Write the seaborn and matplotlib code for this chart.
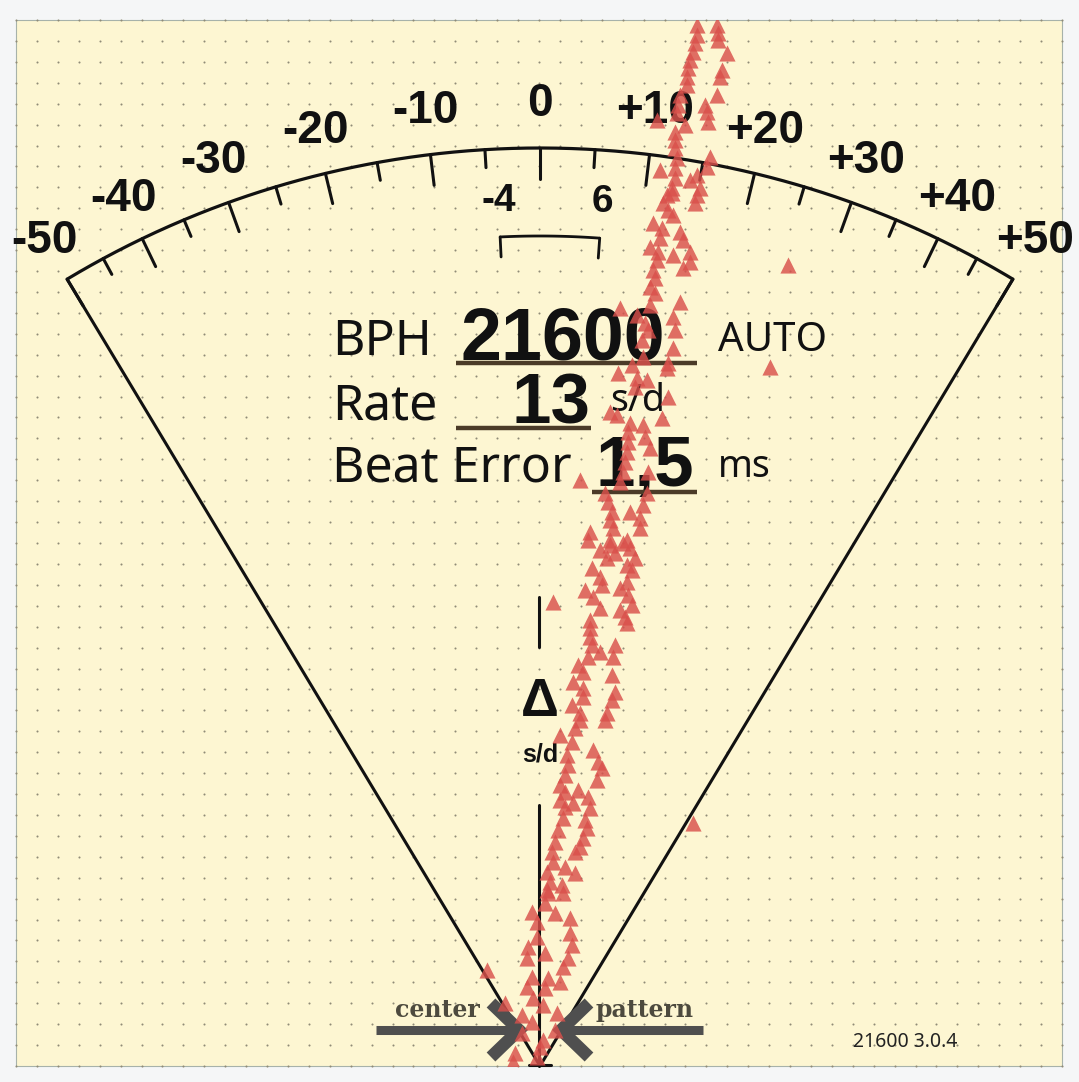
import numpy as np
import pandas as pd
import matplotlib
matplotlib.use("Agg")
import matplotlib.pyplot as plt
from matplotlib.patches import Rectangle
import seaborn as sns

# --- values ---
SCALE_TICKS = [-50, -45, -40, -35, -30, -25, -20, -15, -10, -5, 0,
               5, 10, 15, 20, 25, 30, 35, 40, 45, 50]
SCALE_LABELS = {-50: "-50", -40: "-40", -30: "-30", -20: "-20", -10: "-10",
                0: "0", 10: "+10", 20: "+20", 30: "+30", 40: "+40", 50: "+50"}
BAND = [-4, 6]
BPH = "21600"
RATE = "13"
BEAT_ERROR = "1,5"
VERSION = "21600 3.0.4"

# beat trace, screen pixels (x, y); tic line and toc line
tic_x = [697, 697, 695, 693, 690, 688, 687, 687, 680, 678, 677, 685, 675, 675, 675, 677, 675, 675, 672,
         672, 667, 663, 668, 673, 653, 662, 660, 650, 658, 657, 653, 655, 650, 655, 650, 637, 645, 648, 642, 643, 632,
         618, 637, 635, 610, 617, 630, 628, 628, 627, 625, 623, 620, 605, 608, 612, 610, 613, 590, 610,
         588, 600, 607, 592, 600, 602, 585, 593, 600, 590, 590, 590, 592, 600, 588, 578, 583, 573, 583, 583, 572, 580,
         580, 575, 560, 572, 567, 568, 565, 560, 565, 560, 565, 563, 558, 555, 552, 553, 547, 550, 562, 547,
         548, 545, 532, 537, 537, 528, 527, 532, 527, 533, 543, 505, 522, 532, 522, 540, 515, 513]
tic_y = [25, 35, 43, 52, 60, 68, 77, 85, 95, 105, 113, 125, 132, 140, 148, 158, 168, 178, 188,
         193, 195, 203, 210, 215, 223, 228, 238, 247, 252, 260, 270, 278, 287, 293, 305, 315, 323, 330, 340, 357, 365,
         373, 378, 387, 412, 415, 423, 432, 442, 452, 462, 472, 482, 493, 502, 512, 520, 528, 532, 540,
         540, 550, 558, 568, 577, 585, 590, 597, 608, 620, 628, 637, 645, 652, 657, 665, 672, 682, 688, 697, 705, 713,
         720, 728, 735, 742, 755, 765, 775, 785, 792, 800, 807, 818, 830, 842, 852, 862, 872, 882, 885, 890,
         893, 903, 912, 922, 937, 947, 958, 977, 987, 998, 1005, 1003, 1015, 1022, 1033, 1047, 1053, 1062]

toc_x = [717, 718, 718, 727, 722, 720, 717, 705, 707, 708, 710, 707, 697, 690, 700,
         697, 695, 680, 683, 673, 690, 690, 683, 680, 673, 675, 673, 668,
         667, 647, 668, 662, 643, 645, 650, 648, 647, 643, 630, 640, 640, 627,
         610, 623, 630, 615, 635, 627, 632, 627, 620, 628, 632, 620, 625, 627, 615, 613, 612, 615, 612, 607,
         605, 593, 598, 602, 597, 578, 588, 573, 590, 585, 587, 583, 580, 575, 565, 575,
         563, 555, 570, 570, 572, 545, 568, 563, 548, 560, 545, 557, 555, 543, 537]
toc_y = [25, 33, 40, 53, 70, 77, 95, 105, 112, 122, 157, 167, 175, 180, 188,
         195, 203, 232, 240, 255, 252, 262, 268, 302, 317, 330, 348, 363,
         368, 380, 397, 418, 425, 437, 448, 472, 493, 505, 512, 518, 528, 540,
         545, 543, 548, 553, 558, 565, 570, 582, 588, 595, 605, 610, 617, 623, 645, 657, 675, 692, 700, 713,
         720, 750, 762, 768, 780, 790, 797, 803, 808, 820, 828, 838, 847, 852, 867, 873,
         893, 913, 918, 933, 945, 953, 958, 967, 978, 982, 988, 1013, 1030, 1040, 1057]

stray_x = [657, 660, 788, 770, 620, 580, 553, 693, 487]
stray_y = [120, 170, 265, 367, 308, 480, 602, 823, 970]

# --- screen geometry ---
PANEL = (16, 20, 1046)
APEX = (540, 1066)
R_ARC = 918
INK = "#111111"
FONT = "Noto Sans"
BOLD = "Liberation Sans"


def angle(v):
    return np.arctan(v * 0.01202)


def polar(v, r):
    a = angle(v)
    return APEX[0] + r * np.sin(a), APEX[1] - r * np.cos(a)


sns.set_style("white")
plt.rcParams["font.family"] = [FONT, "DejaVu Sans"]

fig = plt.figure(figsize=(10.79, 10.82), dpi=100)
fig.patch.set_facecolor("#f5f6f7")
ax = fig.add_axes([0, 0, 1, 1])
ax.set_facecolor("#f5f6f7")

px, py, side = PANEL
panel = Rectangle((px, py), side, side, facecolor="#fdf6d2",
                  edgecolor="#a7b2aa", lw=0.8, zorder=0)
ax.add_patch(panel)

# dotted background grid
step = side / 50
gx, gy = np.meshgrid(px + step * np.arange(51), py + step * np.arange(51))
ax.scatter(gx.ravel(), gy.ravel(), s=2.2, color="#8f8b77", lw=0, zorder=1)

# fan and arc
lo, hi = SCALE_TICKS[0], SCALE_TICKS[-1]
for v in (lo, hi):
    ex, ey = polar(v, R_ARC)
    ax.plot([APEX[0], ex], [APEX[1], ey], color=INK, lw=2.2, zorder=2,
            solid_capstyle="butt")
arc_v = np.linspace(lo, hi, 300)
ax.plot(*polar(arc_v, R_ARC), color=INK, lw=2.3, zorder=2)

for v in SCALE_TICKS:
    ln = 31 if v % 10 == 0 else 18
    x0, y0 = polar(v, R_ARC)
    x1, y1 = polar(v, R_ARC - ln)
    ax.plot([x0, x1], [y0, y1], color=INK, lw=2.2, zorder=2)
    if v in SCALE_LABELS:
        lx, ly = polar(v, 962)
        ax.text(lx, ly, SCALE_LABELS[v], ha="center", va="center", family=BOLD,
                fontsize=33, fontweight="bold", color=INK, zorder=2)

# tolerance band
band_v = np.linspace(BAND[0], BAND[1], 40)
bx, by = polar(band_v, 830)
ax.plot(bx, by, color=INK, lw=2.0, zorder=2)
for v in BAND:
    x0, y0 = polar(v, 830)
    x1, y1 = polar(v, 810)
    ax.plot([x0, x1], [y0, y1], color=INK, lw=2.0, zorder=2)
    lx, ly = polar(v, 866)
    ax.text(lx, ly, f"{v}", ha="center", va="center", fontsize=28, family=BOLD,
            fontweight="bold", color=INK, zorder=2)

# center line with delta label
ax.plot([539, 539], [597, 647], color=INK, lw=2.2, zorder=2)
ax.plot([539, 539], [805, APEX[1]], color=INK, lw=2.2, zorder=2)
ax.plot([529, 551], [1065, 1065], color=INK, lw=2.2, zorder=2)
ax.text(540, 702, "Δ", ha="center", va="center", fontsize=38, family=BOLD,
        fontweight="bold", color=INK, zorder=2)
ax.text(540, 754, "s/d", ha="center", va="center", fontsize=18, family=BOLD,
        fontweight="bold", color=INK, zorder=2)

# readout block
ax.text(332, 355, "BPH", fontsize=36, color=INK, va="baseline", zorder=2)
ax.text(332, 419, "Rate", fontsize=36, color=INK, va="baseline", zorder=2)
ax.text(332, 482, "Beat Error", fontsize=36, color=INK, va="baseline", zorder=2)
ax.text(563, 359, BPH, fontsize=53, fontweight="bold", color=INK, family=BOLD,
        ha="center", va="baseline", zorder=2)
ax.text(591, 423, RATE, fontsize=51, fontweight="bold", color=INK, family=BOLD,
        ha="right", va="baseline", zorder=2)
ax.text(595, 486, BEAT_ERROR, fontsize=51, fontweight="bold", color=INK, family=BOLD,
        ha="left", va="baseline", zorder=2)
under = "#4b3b28"
ax.plot([456, 697], [362.5, 362.5], color=under, lw=3.2, zorder=2, solid_capstyle="butt")
ax.plot([456, 591], [428, 428], color=under, lw=3.2, zorder=2, solid_capstyle="butt")
ax.plot([592, 697], [492, 492], color=under, lw=3.2, zorder=2, solid_capstyle="butt")
ax.text(718, 351, "AUTO", fontsize=29, color=INK, va="baseline", zorder=2)
ax.text(610, 411, "s/d", fontsize=27, color=INK, va="baseline", zorder=2)
ax.text(718, 477, "ms", fontsize=27, color=INK, va="baseline", zorder=2)

# center pattern arrows
grey = "#4f4f4f"
ax.plot([376, 512], [1030, 1030], color=grey, lw=6.5, zorder=2, solid_capstyle="butt")
ax.plot([568, 703], [1030, 1030], color=grey, lw=6.5, zorder=2, solid_capstyle="butt")
ax.plot([491, 519, 491], [1003, 1030, 1057], color=grey, lw=9, zorder=2,
        solid_joinstyle="miter", solid_capstyle="butt")
ax.plot([589, 561, 589], [1003, 1030, 1057], color=grey, lw=9, zorder=2,
        solid_joinstyle="miter", solid_capstyle="butt")
ax.text(395, 1017, "center", fontsize=17, fontweight="bold", family="DejaVu Serif",
        color="#4d4a3e", va="baseline", zorder=2)
ax.text(595, 1017, "pattern", fontsize=17, fontweight="bold", family="DejaVu Serif",
        color="#4d4a3e", va="baseline", zorder=2)
ax.text(853, 1047, VERSION, fontsize=14, color="#222222", va="baseline", zorder=2)

# beat points
beats = pd.DataFrame({
    "x": tic_x + toc_x + stray_x,
    "y": tic_y + toc_y + stray_y,
})
sns.scatterplot(data=beats, x="x", y="y", marker="^", s=135, color="#d9504b",
                linewidth=0, alpha=0.82, ax=ax, legend=False, zorder=4)
ax.collections[-1].set_clip_path(panel)

ax.set_xlim(0, 1079)
ax.set_ylim(1082, 0)
ax.axis("off")

fig.savefig("out.png", dpi=100, facecolor=fig.get_facecolor())
